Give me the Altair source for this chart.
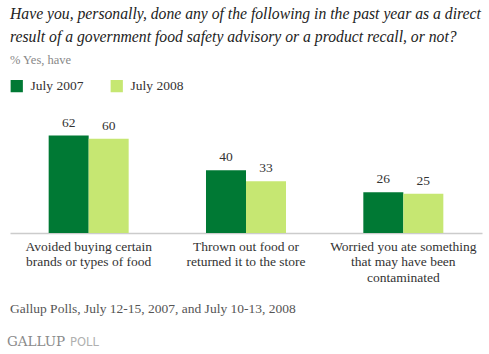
import altair as alt
import pandas as pd

categories = ["Avoided buying certain|brands or types of food",
              "Thrown out food or|returned it to the store",
              "Worried you ate something|that may have been|contaminated"]
years = ["July 2007", "July 2008"]
values_2007 = [62, 40, 26]
values_2008 = [60, 33, 25]

title_lines = ["Have you, personally, done any of the following in the past year as a direct",
               "result of a government food safety advisory or a product recall, or not?"]
subtitle = "% Yes, have"
footer = "Gallup Polls, July 12-15, 2007, and July 10-13, 2008"

rows = []
for c, a, b in zip(categories, values_2007, values_2008):
    rows.append({"category": c, "year": years[0], "value": a})
    rows.append({"category": c, "year": years[1], "value": b})
df = pd.DataFrame(rows)

SERIF = "Liberation Serif"

x_enc = alt.X("category:N", sort=categories,
              scale=alt.Scale(paddingInner=0.4915, paddingOuter=0.2458),
              axis=alt.Axis(title=None, labelAngle=0, ticks=False, domainColor="#cccccc",
                            domainWidth=1.5, labelFont=SERIF, labelFontSize=13.5,
                            labelColor="#333333", labelPadding=6, labelLineHeight=15.5,
                            labelExpr="split(datum.label, '|')", labelBaseline="top"))
xo = alt.XOffset("year:N", sort=years, scale=alt.Scale(paddingInner=0, paddingOuter=0))
y_enc = alt.Y("value:Q", scale=alt.Scale(domain=[0, 70]), axis=None)

base = alt.Chart(df)
bars = base.mark_bar().encode(
    x=x_enc, xOffset=xo, y=y_enc,
    color=alt.Color("year:N", sort=years,
                    scale=alt.Scale(domain=years, range=["#007934", "#c6e772"]),
                    legend=alt.Legend(title=None, orient="none", legendX=0, legendY=-44,
                                      direction="horizontal", symbolType="square",
                                      symbolSize=150, symbolStrokeWidth=0,
                                      labelFont=SERIF, labelFontSize=13.5, labelColor="#333333",
                                      columnPadding=26, symbolOffset=0, labelOffset=7)),
)
labels = base.mark_text(dy=-9, font=SERIF, fontSize=13.5, color="#333333", baseline="alphabetic").encode(
    x=x_enc, xOffset=xo, y=y_enc, text=alt.Text("value:Q"))

one = alt.Data(values=[{}])
title_t = alt.Chart(one).mark_text(text=title_lines, font=SERIF, fontSize=15.7, fontStyle="italic",
                                   color="#222222", align="left", baseline="alphabetic",
                                   lineHeight=23).encode(x=alt.value(0), y=alt.value(-104))
sub_t = alt.Chart(one).mark_text(text=subtitle, font=SERIF, fontSize=12.5, color="#888888",
                                 align="left", baseline="alphabetic").encode(x=alt.value(0), y=alt.value(-59))
foot_t = alt.Chart(one).mark_text(text=footer, font=SERIF, fontSize=13.5, color="#555555",
                                  align="left", baseline="alphabetic").encode(x=alt.value(0), y=alt.value(190))
logo1 = alt.Chart(one).mark_text(text="GALLUP", font="DejaVu Serif", fontSize=13.5, color="#8a8a8a",
                                 align="left", baseline="alphabetic").encode(x=alt.value(-3), y=alt.value(223))
logo2 = alt.Chart(one).mark_text(text="POLL", font="DejaVu Sans", fontSize=11.5, color="#b0b0b0",
                                 align="left", baseline="alphabetic").encode(x=alt.value(60), y=alt.value(223))

chart = alt.layer(bars, labels, title_t, sub_t, foot_t, logo1, logo2).properties(
    width=472, height=110,
    background="white",
    autosize=alt.AutoSizeParams(type="none"),
    padding={"left": 10, "top": 123, "right": 7, "bottom": 121},
).configure_view(stroke=None)

chart.save("out.html", embed_options={"renderer": "svg", "actions": False})
